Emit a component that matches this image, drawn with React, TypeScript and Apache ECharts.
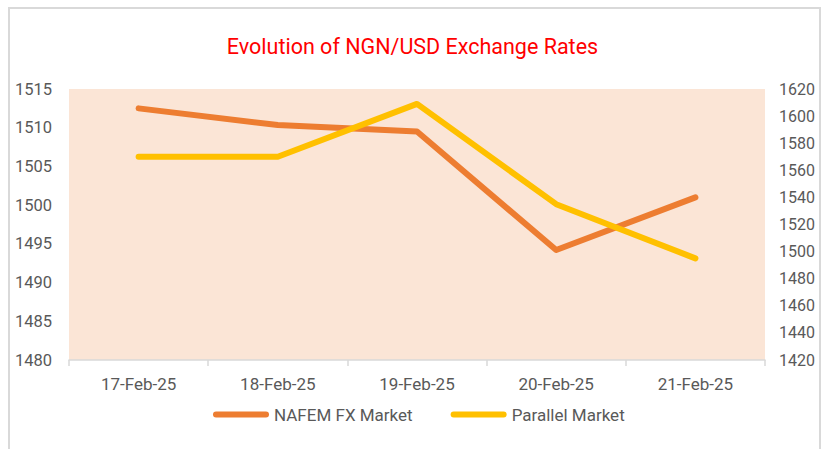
import React, { useEffect, useRef } from "react";
import * as echarts from "echarts";

const categories = ["17-Feb-25", "18-Feb-25", "19-Feb-25", "20-Feb-25", "21-Feb-25"];
const nafemValues = [1512.5, 1510.35, 1509.5, 1494.2, 1501.0];
const parallelValues = [1570, 1570, 1609, 1535, 1495];
const seriesNames = ["NAFEM FX Market", "Parallel Market"];
const titleText = "Evolution of NGN/USD Exchange Rates";

const FONT = "Roboto, 'Noto Sans', sans-serif";
const LABEL = "#595959";
const legendIcon = "path://M3,0 L53,0 A3,3 0 0 1 53,6 L3,6 A3,3 0 0 1 3,0 Z";
const plain = (v: number) => String(v);

export default function App() {
  const ref = useRef<HTMLDivElement>(null);
  useEffect(() => {
    if (!ref.current) return;
    const chart = echarts.init(ref.current, null, { renderer: "svg" });
    chart.setOption({
      animation: false,
      backgroundColor: "#ffffff",
      textStyle: { fontFamily: FONT },
      title: {
        text: titleText,
        left: "center",
        top: 30,
        textStyle: { color: "#ff0000", fontSize: 21.5, fontWeight: "normal", fontFamily: FONT },
      },
      graphic: [
        {
          type: "rect",
          shape: { x: 9, y: 8, width: 811, height: 460 },
          style: { fill: "none", stroke: "#d9d9d9", lineWidth: 2 },
          silent: true,
        },
      ],
      legend: {
        data: seriesNames,
        bottom: 21,
        left: 208,
        itemWidth: 56,
        itemHeight: 6,
        itemGap: 38,
        icon: legendIcon,
        textStyle: { color: LABEL, fontSize: 17, fontFamily: FONT },
      },
      grid: {
        left: 69,
        right: 60,
        top: 89,
        bottom: 89,
        show: true,
        backgroundColor: "#FBE5D6",
        borderWidth: 0,
        containLabel: false,
      },
      xAxis: {
        type: "category",
        data: categories,
        boundaryGap: true,
        axisLine: { show: true, lineStyle: { color: "#d9d9d9", width: 1.5 } },
        axisTick: { show: true, length: 6, lineStyle: { color: "#d9d9d9", width: 1.5 } },
        axisLabel: { color: LABEL, fontSize: 17, margin: 15, fontFamily: FONT },
        splitLine: { show: false },
      },
      yAxis: [
        {
          type: "value",
          min: 1480,
          max: 1515,
          interval: 5,
          axisLine: { show: false },
          axisTick: { show: false },
          splitLine: { show: false },
          axisLabel: { color: LABEL, fontSize: 16.5, margin: 17, fontFamily: FONT, formatter: plain },
        },
        {
          type: "value",
          min: 1420,
          max: 1620,
          interval: 20,
          position: "right",
          axisLine: { show: false },
          axisTick: { show: false },
          splitLine: { show: false },
          axisLabel: { color: LABEL, fontSize: 16, margin: 14, fontFamily: FONT, formatter: plain },
        },
      ],
      series: [
        {
          name: seriesNames[0],
          type: "line",
          data: nafemValues,
          yAxisIndex: 0,
          symbol: "none",
          color: "#ED7D31",
          lineStyle: { color: "#ED7D31", width: 6, cap: "round", join: "round" },
        },
        {
          name: seriesNames[1],
          type: "line",
          data: parallelValues,
          yAxisIndex: 1,
          symbol: "none",
          color: "#FFC000",
          lineStyle: { color: "#FFC000", width: 6, cap: "round", join: "round" },
        },
      ],
    });
    return () => chart.dispose();
  }, []);
  return (
    <div
      ref={ref}
      style={{ position: "absolute", left: 0, top: 0, width: 825, height: 449 }}
    />
  );
}
